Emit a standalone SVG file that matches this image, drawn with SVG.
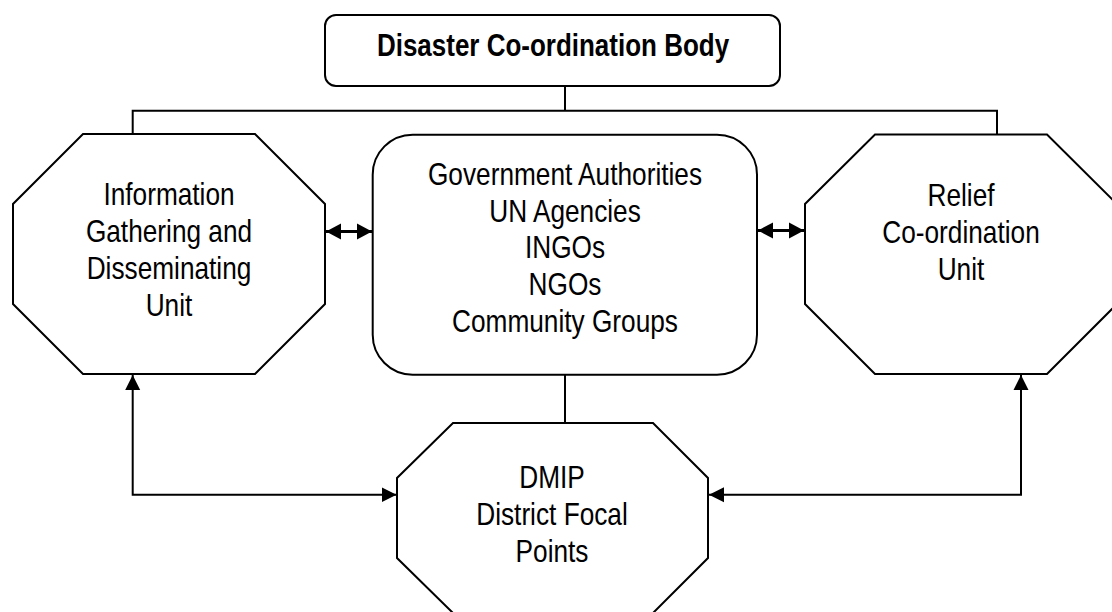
<svg xmlns="http://www.w3.org/2000/svg" width="1112" height="612" viewBox="0 0 1112 612">
  <style>
    .shape { fill: #ffffff; stroke: #000000; stroke-width: 2; }
    .conn { fill: none; stroke: #000000; stroke-width: 2; }
    .dbl { fill: none; stroke: #000000; stroke-width: 3; }
    .lbl { font-family: "Liberation Sans Narrow", "Arial Narrow", "Liberation Sans", Arial, sans-serif; font-size: 32px; fill: #000000; text-anchor: middle; }
    .bold { font-weight: bold; font-size: 31.7px; }
  </style>
  <defs>
    <marker id="arr" markerUnits="userSpaceOnUse" markerWidth="16" markerHeight="16" viewBox="0 0 16 16" refX="15" refY="8" orient="auto-start-reverse">
      <path d="M0,0.5 L15,8 L0,15.5 Z" fill="#000000"/>
    </marker>
    <marker id="arr2" markerUnits="userSpaceOnUse" markerWidth="16" markerHeight="18" viewBox="0 0 16 18" refX="15" refY="9" orient="auto-start-reverse">
      <path d="M0,1 L15,9 L0,17 Z" fill="#000000"/>
    </marker>
  </defs>

  <g id="connectors">
    <polyline class="conn" points="565,86 565,110.7"/>
    <polyline class="conn" points="132.7,134 132.7,110.7 997,110.7 997,134.5"/>
    <polyline class="conn" points="565,374.7 565,423"/>
    <polyline class="conn" points="132.7,375 132.7,494.7 396.5,494.7" marker-start="url(#arr)" marker-end="url(#arr)"/>
    <polyline class="conn" points="1021,375 1021,494.7 709,494.7" marker-start="url(#arr)" marker-end="url(#arr)"/>
    <line class="dbl" x1="326" y1="231.5" x2="372" y2="231.5" marker-start="url(#arr2)" marker-end="url(#arr2)"/>
    <line class="dbl" x1="758" y1="230.5" x2="804" y2="230.5" marker-start="url(#arr2)" marker-end="url(#arr2)"/>
  </g>

  <g id="node-coordination-body">
    <rect class="shape" x="325" y="15" width="455" height="71" rx="11" ry="11"/>
    <text class="lbl bold" transform="matrix(0.82 0 0 1 553 0)" x="0" y="56">Disaster Co-ordination Body</text>
  </g>

  <g id="node-information-unit">
    <polygon class="shape" points="83,134 255,134 325,204 325,304 255,374 83,374 13,304 13,204"/>
    <g transform="matrix(0.82 0 0 1 169 0)">
      <text class="lbl" x="0" y="205">Information</text>
      <text class="lbl" x="0" y="242">Gathering and</text>
      <text class="lbl" x="0" y="279">Disseminating</text>
      <text class="lbl" x="0" y="316">Unit</text>
    </g>
  </g>

  <g id="node-stakeholders">
    <rect class="shape" x="372.7" y="134.7" width="384.3" height="240" rx="40" ry="40"/>
    <g transform="matrix(0.82 0 0 1 565 0)">
      <text class="lbl" x="0" y="185">Government Authorities</text>
      <text class="lbl" x="0" y="221.7">UN Agencies</text>
      <text class="lbl" x="0" y="258.3">INGOs</text>
      <text class="lbl" x="0" y="295">NGOs</text>
      <text class="lbl" x="0" y="331.7">Community Groups</text>
    </g>
  </g>

  <g id="node-relief-unit">
    <polygon class="shape" points="875,134.5 1047,134.5 1117,204 1117,304 1047,374 875,374 805,304 805,204"/>
    <g transform="matrix(0.82 0 0 1 961 0)">
      <text class="lbl" x="0" y="206">Relief</text>
      <text class="lbl" x="0" y="243">Co-ordination</text>
      <text class="lbl" x="0" y="280">Unit</text>
    </g>
  </g>

  <g id="node-dmip">
    <polygon class="shape" points="453,423 653,423 708,478 708,558 653,613 453,613 397,558 397,478"/>
    <g transform="matrix(0.82 0 0 1 552 0)">
      <text class="lbl" x="0" y="488">DMIP</text>
      <text class="lbl" x="0" y="525">District Focal</text>
      <text class="lbl" x="0" y="562">Points</text>
    </g>
  </g>
</svg>
